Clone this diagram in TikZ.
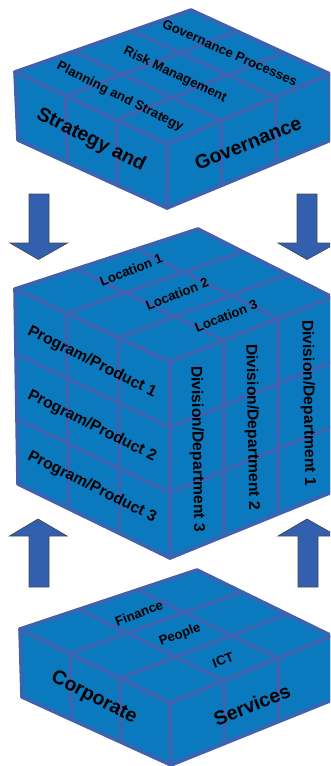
\documentclass[tikz,border=0pt]{standalone}
\usepackage{fontspec}
\setmainfont{Liberation Sans}
\usetikzlibrary{calc}
\definecolor{facecol}{HTML}{0B79BD}
\definecolor{gridcol}{HTML}{3F62B0}
\definecolor{arrowcol}{HTML}{3360AE}
\definecolor{arrowedge}{HTML}{45484F}
\tikzset{
  face/.style={fill=facecol,draw=gridcol,line width=3.6pt,line join=round},
  gridline/.style={draw=gridcol,line width=3.4pt},
  bigarrow/.style={fill=arrowcol,draw=arrowedge,line width=0.7pt,line join=miter},
  lbl/.style={text=black,inner sep=0pt},
  small/.style={lbl,font=\bfseries\fontsize{13.2}{14}\selectfont},
  mid/.style={lbl,font=\bfseries\fontsize{15.7}{16}\selectfont},
  big/.style={lbl,font=\bfseries\fontsize{19.6}{20}\selectfont},
}
% #1 L, #2 A, #3 R, #4 F, #5 BL, #6 BF, #7 BR, #8 rows
\newcommand{\blockdraw}[8]{%
  \coordinate (L) at #1; \coordinate (A) at #2; \coordinate (R) at #3; \coordinate (F) at #4;
  \coordinate (BL) at #5; \coordinate (BF) at #6; \coordinate (BR) at #7;
  \draw[face] (L)--(A)--(R)--(F)--cycle;
  \draw[face] (L)--(F)--(BF)--(BL)--cycle;
  \draw[face] (F)--(R)--(BR)--(BF)--cycle;
  \foreach \t in {0.333,0.667}{
    \draw[gridline] ($(L)!\t!(F)$)--($(A)!\t!(R)$);
    \draw[gridline] ($(L)!\t!(A)$)--($(F)!\t!(R)$);
    \draw[gridline] ($(L)!\t!(F)$)--($(BL)!\t!(BF)$);
    \draw[gridline] ($(F)!\t!(R)$)--($(BF)!\t!(BR)$);
  }
  \foreach \s in {#8}{
    \draw[gridline] ($(L)!\s!(BL)$)--($(F)!\s!(BF)$)--($(R)!\s!(BR)$);
  }
}
\begin{document}
\begin{tikzpicture}[x=1pt,y=-1pt]
\useasboundingbox (0,0) rectangle (330,766);
\clip (0,0) rectangle (330,766);
% top block
\blockdraw{(15,72)}{(191,10)}{(330,74)}{(167,144)}{(18,140)}{(167,208)}{(331,140)}{}
% middle block
\blockdraw{(15,289)}{(198,229)}{(332,297)}{(170,362)}{(18,484)}{(170,558)}{(332,492)}{0.333,0.667}
% bottom block
\blockdraw{(20,629)}{(197,570)}{(332,636)}{(170,703)}{(22,697)}{(171,765)}{(332,700)}{}
% arrows
\draw[bigarrow] (29,194)--(49,194)--(49,243)--(67.5,243)--(38.5,259.5)--(10,243)--(29,243)--cycle;
\draw[bigarrow] (297,194)--(317,194)--(317,243)--(337,243)--(307,259.5)--(278,243)--(297,243)--cycle;
\draw[bigarrow] (29,587)--(49,587)--(49,536)--(67,536)--(38,519)--(9.5,536)--(29,536)--cycle;
\draw[bigarrow] (298,587)--(318,587)--(318,536)--(337,536)--(307,519)--(278,536)--(298,536)--cycle;
% labels top
\node[small,rotate=-24] (gp) at (230,53) {Governance Processes};
\node[small,rotate=-25.5] (rm) at (175,75) {Risk Management};
\node[small,rotate=-26.5] (ps) at (120,97) {Planning and Strategy};
\node[big,rotate=-26.5] (sa) at (91,140) {Strategy and};
\node[big,rotate=22] (go) at (248,143) {Governance};
% labels middle
\node[small,rotate=21.5] (l1) at (131,270) {Location 1};
\node[small,rotate=21.5] (l2) at (177,294) {Location 2};
\node[small,rotate=21.5] (l3) at (226,316) {Location 3};
\node[mid,rotate=-26.5] (p1) at (92,362) {Program/Product 1};
\node[mid,rotate=-26.5] (p2) at (92,426) {Program/Product 2};
\node[mid,rotate=-26.5] (p3) at (92,487) {Program/Product 3};
\node[mid,rotate=-89] (d3) at (197,449) {Division/Department 3};
\node[mid,rotate=-89] (d2) at (252,427) {Division/Department 2};
\node[mid,rotate=-89] (d1) at (308,403) {Division/Department 1};
% labels bottom
\node[small,rotate=21] (fi) at (139,613) {Finance};
\node[small,rotate=21] (pe) at (180,635) {People};
\node[small,rotate=21] (ic) at (223,660) {ICT};
\node[big,rotate=-27.5] (co) at (94,698) {Corporate};
\node[big,rotate=22] (se) at (252,705) {Services};
\end{tikzpicture}
\end{document}
